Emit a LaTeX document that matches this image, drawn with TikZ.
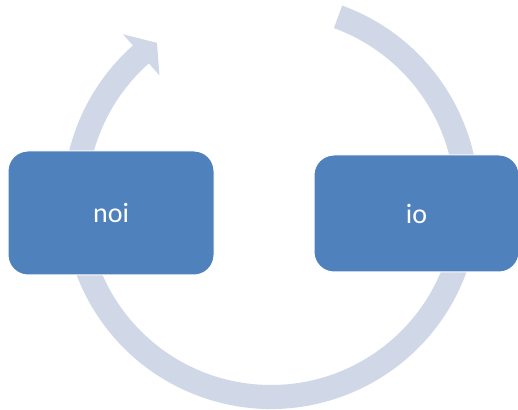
\documentclass[tikz,border=0pt]{standalone}
\usepackage{fontspec}
\setmainfont{Carlito}
\usetikzlibrary{calc}

\definecolor{boxblue}{HTML}{4F81BD}
\definecolor{ringgrey}{HTML}{D0D8E8}

\tikzset{
  cyclebox/.style={draw=white, line width=1pt, fill=boxblue, rounded corners=20pt,
    text=white, font=\fontsize{28}{32}\selectfont, inner sep=0pt},
  ringfill/.style={fill=ringgrey},
}

\begin{document}
\begin{tikzpicture}[x=1pt,y=1pt]
  \useasboundingbox (0,0) rectangle (518,409);

  % circular arrow behind the boxes
  \coordinate (c) at (271,208);
  \begin{scope}[shift={(c)}]
    \fill[ringfill]
      (70:208pt) arc[start angle=70, end angle=-228.4, radius=208pt]
      -- (131.6:223pt) -- (125.8:195pt) -- (131.6:168pt)
      -- (131.6:184pt) arc[start angle=-228.4, end angle=70, radius=184pt]
      -- cycle;
  \end{scope}

  % the two steps of the cycle
  \node[cyclebox, minimum width=206pt, minimum height=124pt] (noi) at (111,196) {noi};
  \node[cyclebox, minimum width=205pt, minimum height=117pt] (io) at (416.5,195.5) {io};
\end{tikzpicture}
\end{document}
